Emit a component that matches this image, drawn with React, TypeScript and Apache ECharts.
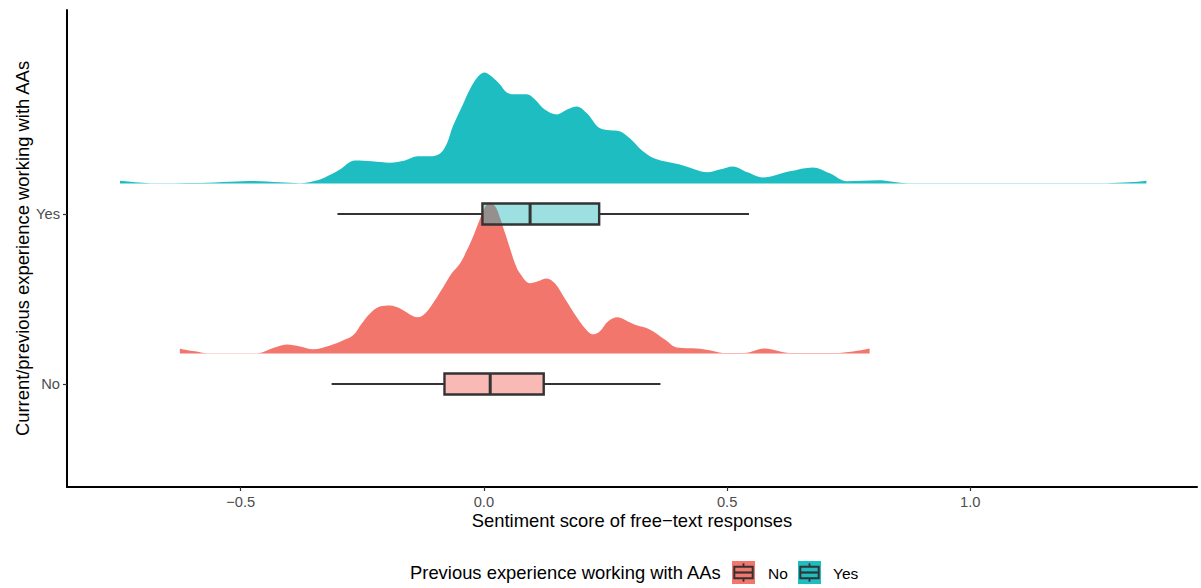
import React, { useEffect, useRef } from "react";
import * as echarts from "echarts";

// ---- Data ----
const groups = ["No", "Yes"];
const groupPos = [1, 2];

// Density ridges: x (sentiment score) and ridge height (in y-axis units)
const yesDensX = [-0.748, -0.717, -0.686, -0.584, -0.522, -0.471, -0.419, -0.378, -0.347, -0.327, -0.296, -0.265, -0.23, -0.193, -0.162, -0.136, -0.111, -0.09, -0.076, -0.064, -0.045, -0.029, -0.012, 0.002, 0.016, 0.033, 0.047, 0.064, 0.088, 0.105, 0.125, 0.15, 0.171, 0.191, 0.212, 0.236, 0.259, 0.279, 0.3, 0.325, 0.351, 0.401, 0.434, 0.46, 0.485, 0.512, 0.542, 0.573, 0.629, 0.676, 0.711, 0.746, 0.81, 0.871, 1.06, 1.28, 1.327, 1.362];
const yesDensH = [0.015, 0.006, 0.001, 0.002, 0.009, 0.014, 0.006, 0.001, 0.015, 0.035, 0.082, 0.135, 0.13, 0.122, 0.135, 0.159, 0.159, 0.176, 0.235, 0.335, 0.453, 0.553, 0.629, 0.653, 0.629, 0.582, 0.535, 0.524, 0.524, 0.494, 0.435, 0.406, 0.435, 0.453, 0.412, 0.329, 0.312, 0.306, 0.265, 0.194, 0.147, 0.112, 0.082, 0.065, 0.082, 0.1, 0.065, 0.035, 0.071, 0.094, 0.059, 0.012, 0.018, 0.001, 0.001, 0.001, 0.006, 0.015];

const noDensX = [-0.625, -0.594, -0.569, -0.466, -0.436, -0.405, -0.378, -0.351, -0.316, -0.29, -0.269, -0.251, -0.234, -0.214, -0.193, -0.173, -0.152, -0.136, -0.121, -0.105, -0.084, -0.066, -0.049, -0.035, -0.023, -0.01, 0.002, 0.012, 0.023, 0.033, 0.043, 0.053, 0.064, 0.074, 0.095, 0.111, 0.129, 0.146, 0.166, 0.191, 0.21, 0.224, 0.238, 0.255, 0.275, 0.296, 0.314, 0.341, 0.372, 0.397, 0.438, 0.464, 0.491, 0.536, 0.577, 0.629, 0.731, 0.768, 0.793];
const noDensH = [0.028, 0.012, 0.001, 0.001, 0.029, 0.053, 0.041, 0.024, 0.047, 0.076, 0.106, 0.176, 0.235, 0.276, 0.282, 0.265, 0.229, 0.212, 0.235, 0.294, 0.388, 0.471, 0.529, 0.606, 0.682, 0.776, 0.859, 0.888, 0.865, 0.8, 0.712, 0.624, 0.529, 0.471, 0.412, 0.424, 0.441, 0.412, 0.324, 0.212, 0.141, 0.112, 0.129, 0.188, 0.212, 0.188, 0.165, 0.141, 0.082, 0.035, 0.029, 0.018, 0.003, 0.003, 0.029, 0.003, 0.003, 0.015, 0.029];

// Boxplot stats: [lowerWhisker, Q1, median, Q3, upperWhisker]
const noBox = [-0.313, -0.081, 0.013, 0.123, 0.363];
const yesBox = [-0.301, -0.003, 0.095, 0.237, 0.545];

const xTicks = [-0.5, 0, 0.5, 1.0];

// ---- Styling / layout constants ----
const FONT = '"Liberation Sans", Arial, Helvetica, sans-serif';
const COL_NO = "#F3766D";
const COL_YES = "#1EBDC2";
const BOX_FILL_NO = "rgba(243,118,109,0.5)";
const BOX_FILL_YES = "rgba(20,180,186,0.42)";
const RIDGE_OFFSET = 0.18; // ridge baseline above group position
const BOX_HALF = 0.062;

const fmtX = (v: number) => {
  const s = Math.abs(v).toFixed(1);
  return v < 0 ? "\u2212" + s : s;
};

export default function App() {
  const ref = useRef<HTMLDivElement>(null);

  useEffect(() => {
    document.body.style.margin = "0";
    if (!ref.current) return;
    const chart = echarts.init(ref.current, null, { renderer: "svg" });

    const noBase = groupPos[0] + RIDGE_OFFSET;
    const yesBase = groupPos[1] + RIDGE_OFFSET;
    const noData = noDensX.map((x, i) => [x, noBase + noDensH[i]]);
    const yesData = yesDensX.map((x, i) => [x, yesBase + yesDensH[i]]);

    const boxFills = [BOX_FILL_NO, BOX_FILL_YES];
    const boxData = [
      [groupPos[0], ...noBox],
      [groupPos[1], ...yesBox],
    ];

    const legendKey = (x: number, y: number, color: string) => {
      const s = 23;
      const bx1 = x + s * 0.1, bx2 = x + s * 0.9;
      const by1 = y + s * 0.25, by2 = y + s * 0.75;
      const cx = x + s / 2;
      return {
        type: "group",
        children: [
          { type: "rect", shape: { x, y, width: s, height: s }, style: { fill: color } },
          { type: "line", shape: { x1: cx, y1: y + s * 0.1, x2: cx, y2: by1 }, style: { stroke: "#333", lineWidth: 1.8 } },
          { type: "line", shape: { x1: cx, y1: by2, x2: cx, y2: y + s * 0.9 }, style: { stroke: "#333", lineWidth: 1.8 } },
          { type: "rect", shape: { x: bx1, y: by1, width: bx2 - bx1, height: by2 - by1 }, style: { fill: "none", stroke: "#333", lineWidth: 2 } },
          { type: "line", shape: { x1: bx1, y1: (by1 + by2) / 2, x2: bx2, y2: (by1 + by2) / 2 }, style: { stroke: "#333", lineWidth: 2.2 } },
        ],
      };
    };

    const option: any = {
      animation: false,
      backgroundColor: "#fff",
      textStyle: { fontFamily: FONT },
      grid: {
        left: 67,
        right: 4,
        top: 10,
        bottom: 101,
        containLabel: false,
        outerBoundsMode: "none",
      },
      xAxis: {
        type: "value",
        min: -0.857,
        max: 1.466,
        name: "Sentiment score of free\u2212text responses",
        nameLocation: "middle",
        nameGap: 24,
        nameMoveOverlap: false,
        nameTextStyle: { fontSize: 18.4, color: "#000", fontFamily: FONT },
        axisLine: { show: true, onZero: false, lineStyle: { color: "#000", width: 2 } },
        axisTick: { show: true, length: 4, customValues: xTicks, lineStyle: { color: "#333", width: 1.2 } },
        axisLabel: {
          customValues: xTicks,
          formatter: (v: number) => fmtX(v),
          color: "#4D4D4D",
          fontSize: 14.7,
          margin: 7,
          fontFamily: FONT,
        },
        splitLine: { show: false },
      },
      yAxis: {
        type: "value",
        min: 0.394,
        max: 3.2,
        name: "Current/previous experience working with AAs",
        nameLocation: "middle",
        nameGap: 36,
        nameRotate: 90,
        nameMoveOverlap: false,
        nameTextStyle: { fontSize: 18.4, color: "#000", fontFamily: FONT },
        axisLine: { show: true, onZero: false, lineStyle: { color: "#000", width: 2 } },
        axisTick: { show: true, length: 4, customValues: groupPos, lineStyle: { color: "#333", width: 1.2 } },
        axisLabel: {
          customValues: groupPos,
          formatter: (v: number) => {
            const i = groupPos.indexOf(Math.round(v));
            return i >= 0 ? groups[i] : "";
          },
          color: "#4D4D4D",
          fontSize: 14.7,
          margin: 7,
          fontFamily: FONT,
        },
        splitLine: { show: false },
      },
      series: [
        {
          name: "Yes",
          type: "line",
          data: yesData,
          smooth: 0.35,
          symbol: "none",
          lineStyle: { width: 0 },
          areaStyle: { color: COL_YES, opacity: 1, origin: yesBase },
          z: 1,
        },
        {
          name: "No",
          type: "line",
          data: noData,
          smooth: 0.35,
          symbol: "none",
          lineStyle: { width: 0 },
          areaStyle: { color: COL_NO, opacity: 1, origin: noBase },
          z: 2,
        },
        {
          name: "boxes",
          type: "custom",
          data: boxData,
          encode: { x: [1, 2, 3, 4, 5], y: 0 },
          z: 5,
          renderItem: (params: any, api: any) => {
            const yc = api.value(0);
            const lo = api.value(1), q1 = api.value(2), md = api.value(3), q3 = api.value(4), hi = api.value(5);
            const pLo = api.coord([lo, yc]);
            const pQ1 = api.coord([q1, yc]);
            const pMd = api.coord([md, yc]);
            const pQ3 = api.coord([q3, yc]);
            const pHi = api.coord([hi, yc]);
            const top = api.coord([q1, yc + BOX_HALF])[1];
            const bot = api.coord([q1, yc - BOX_HALF])[1];
            const stroke = "#333333";
            return {
              type: "group",
              children: [
                { type: "line", shape: { x1: pLo[0], y1: pLo[1], x2: pQ1[0], y2: pQ1[1] }, style: { stroke, lineWidth: 1.8 } },
                { type: "line", shape: { x1: pQ3[0], y1: pQ3[1], x2: pHi[0], y2: pHi[1] }, style: { stroke, lineWidth: 1.8 } },
                {
                  type: "rect",
                  shape: { x: pQ1[0], y: top, width: pQ3[0] - pQ1[0], height: bot - top },
                  style: { fill: boxFills[params.dataIndex], stroke, lineWidth: 2.4 },
                },
                { type: "line", shape: { x1: pMd[0], y1: top, x2: pMd[0], y2: bot }, style: { stroke, lineWidth: 3 } },
              ],
            };
          },
        },
      ],
      graphic: [
        {
          type: "text",
          left: 410,
          top: 563,
          style: { text: "Previous experience working with AAs", fontSize: 18.4, fill: "#000", fontFamily: FONT },
        },
        legendKey(732, 561, COL_NO),
        {
          type: "text",
          left: 768,
          top: 565,
          style: { text: groups[0], fontSize: 15.5, fill: "#000", fontFamily: FONT },
        },
        legendKey(798, 561, COL_YES),
        {
          type: "text",
          left: 833,
          top: 565,
          style: { text: groups[1], fontSize: 15.5, fill: "#000", fontFamily: FONT },
        },
      ],
    };

    chart.setOption(option);
    return () => chart.dispose();
  }, []);

  return <div ref={ref} style={{ width: 1201, height: 588 }} />;
}
